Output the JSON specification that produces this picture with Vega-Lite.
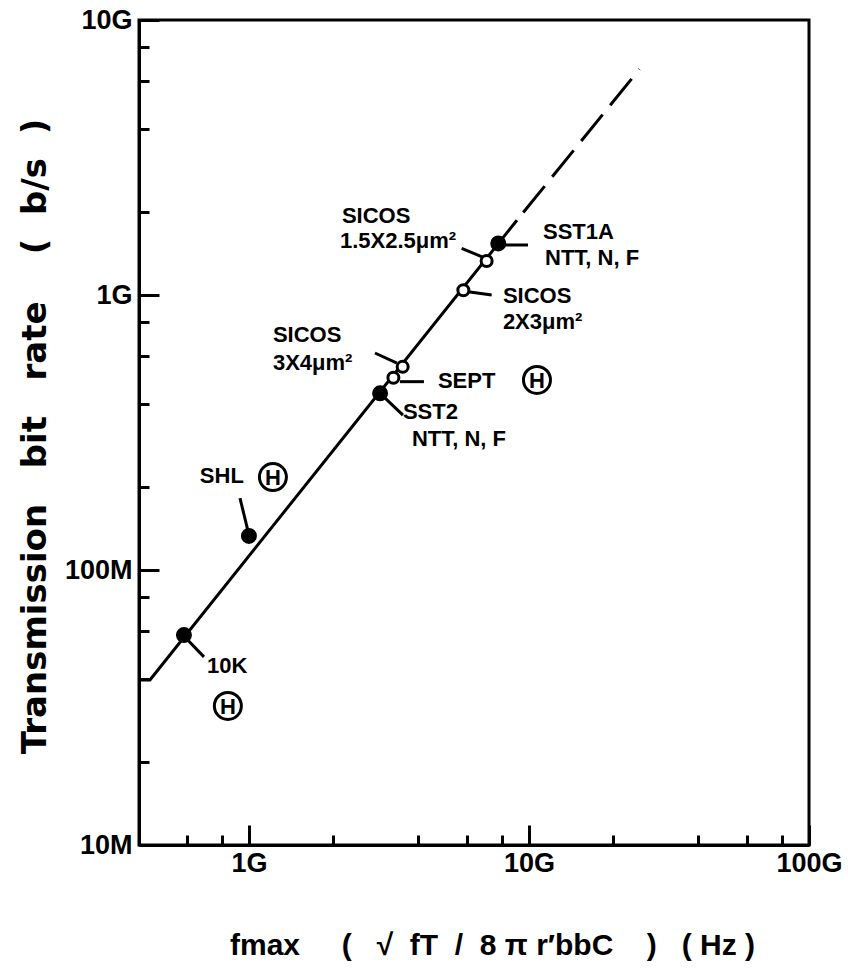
{
  "$schema": "https://vega.github.io/schema/vega-lite/v6.json",
  "width": 670,
  "height": 825,
  "autosize": {"type": "none"},
  "padding": {"left": 139, "top": 20, "right": 39, "bottom": 127},
  "background": "white",
  "config": {
    "view": {"stroke": "black", "strokeWidth": 3},
    "axis": {"grid": false, "domainColor": "black", "domainWidth": 3, "tickColor": "black", "tickWidth": 3, "labelColor": "black", "titleColor": "black", "labelOverlap": false, "labelFlush": false}
  },
  "datasets": {
    "curve": [
      {"f": 4.05e8, "r": 3.98e7, "seg": "solid"},
      {"f": 4.43e8, "r": 3.98e7, "seg": "solid"},
      {"f": 9.06e9, "r": 1.87e9, "seg": "solid"},
      {"f": 9.06e9, "r": 1.87e9, "seg": "dashed"},
      {"f": 2.48e10, "r": 6.62e9, "seg": "dashed"}
    ],
    "points": [
      {"name": "10K", "f": 5.86e8, "r": 5.8e7, "type": "filled"},
      {"name": "SHL", "f": 1.0e9, "r": 1.33e8, "type": "filled"},
      {"name": "SST2", "f": 2.94e9, "r": 4.39e8, "type": "filled"},
      {"name": "SEPT", "f": 3.28e9, "r": 5.0e8, "type": "open"},
      {"name": "SICOS 3X4", "f": 3.54e9, "r": 5.48e8, "type": "open"},
      {"name": "SICOS 2X3", "f": 5.83e9, "r": 1.04e9, "type": "open"},
      {"name": "SICOS 1.5X2.5", "f": 7.06e9, "r": 1.33e9, "type": "open"},
      {"name": "SST1A", "f": 7.77e9, "r": 1.54e9, "type": "filled"}
    ],
    "leaders": [
      {"f": 5.81e8, "r": 5.8e7, "f2": 6.91e8, "r2": 4.83e7},
      {"f": 9.29e8, "r": 1.827e8, "f2": 1.0e9, "r2": 1.341e8},
      {"f": 2.94e9, "r": 4.39e8, "f2": 3.548e9, "r2": 3.66e8},
      {"f": 3.46e9, "r": 4.84e8, "f2": 4.217e9, "r2": 4.84e8},
      {"f": 2.818e9, "r": 6.153e8, "f2": 3.378e9, "r2": 5.658e8},
      {"f": 6.07e9, "r": 1.028e9, "f2": 7.36e9, "r2": 1.0e9},
      {"f": 5.75e9, "r": 1.479e9, "f2": 6.87e9, "r2": 1.371e9},
      {"f": 8.21e9, "r": 1.52e9, "f2": 9.92e9, "r2": 1.52e9}
    ],
    "labels": [
      {"f": 2.148e9, "r": 1.938e9, "label": "SICOS"},
      {"f": 2.113e9, "r": 1.572e9, "label": "1.5X2.5μm²"},
      {"f": 1.122e10, "r": 1.70e9, "label": "SST1A"},
      {"f": 1.141e10, "r": 1.36e9, "label": "NTT, N, F"},
      {"f": 8.07e9, "r": 9.92e8, "label": "SICOS"},
      {"f": 8.07e9, "r": 7.98e8, "label": "2X3μm²"},
      {"f": 1.218e9, "r": 7.15e8, "label": "SICOS"},
      {"f": 1.218e9, "r": 5.66e8, "label": "3X4μm²"},
      {"f": 4.73e9, "r": 4.87e8, "label": "SEPT"},
      {"f": 3.548e9, "r": 3.76e8, "label": "SST2"},
      {"f": 3.82e9, "r": 3.0e8, "label": "NTT, N, F"},
      {"f": 6.68e8, "r": 2.197e8, "label": "SHL"},
      {"f": 7.08e8, "r": 4.477e7, "label": "10K"}
    ],
    "hmarks": [
      {"f": 1.068e10, "r": 4.91e8},
      {"f": 1.218e9, "r": 2.178e8},
      {"f": 8.41e8, "r": 3.203e7}
    ]
  },
  "layer": [
    {
      "data": {"name": "curve"},
      "transform": [{"filter": "datum.seg == 'solid'"}],
      "mark": {"type": "line", "color": "black", "strokeWidth": 3, "strokeJoin": "round"},
      "encoding": {
        "x": {
          "field": "f", "type": "quantitative",
          "scale": {"type": "log", "domain": [4.05e8, 1e11], "nice": false},
          "axis": {
            "title": "fmax\u00a0\u00a0\u00a0\u00a0\u00a0(\u00a0\u00a0\u00a0√\u00a0\u00a0fT\u00a0\u00a0/\u00a0\u00a08\u00a0π\u00a0r′bbC\u00a0\u00a0\u00a0\u00a0)\u00a0\u00a0\u00a0(\u00a0Hz\u00a0)",
            "values": [6e8, 8e8, 1e9, 2e9, 4e9, 6e9, 8e9, 1e10, 2e10, 4e10, 6e10, 8e10, 1e11],
            "labelExpr": "datum.value == 1e9 ? '1G' : datum.value == 1e10 ? '10G' : datum.value == 1e11 ? '100G' : ''",
            "tickSize": {"condition": {"test": "datum.value == 1e9 || datum.value == 1e10 || datum.value == 1e11", "value": -20}, "value": -10},
            "labelFont": "Liberation Sans",
            "labelFontWeight": "bold",
            "labelFontSize": 27,
            "labelPadding": 25,
            "labelBaseline": "top",
            "titleFont": "Liberation Sans",
            "titleFontWeight": "bold",
            "titleFontSize": 30,
            "titleX": 353,
            "titleY": 100,
            "titleAlign": "center",
            "titleBaseline": "middle"
          }
        },
        "y": {
          "field": "r", "type": "quantitative",
          "scale": {"type": "log", "domain": [1e7, 1e10], "nice": false},
          "axis": {
            "title": "Transmission\u00a0\u00a0\u00a0bit\u00a0\u00a0\u00a0rate\u00a0\u00a0\u00a0\u00a0(\u00a0\u00a0b/s\u00a0\u00a0)",
            "values": [1e7, 2e7, 4e7, 6e7, 8e7, 1e8, 2e8, 4e8, 6e8, 8e8, 1e9, 2e9, 4e9, 6e9, 8e9, 1e10],
            "labelExpr": "datum.value == 1e7 ? '10M' : datum.value == 1e8 ? '100M' : datum.value == 1e9 ? '1G' : datum.value == 1e10 ? '10G' : ''",
            "tickSize": {"condition": {"test": "datum.value == 1e7 || datum.value == 1e8 || datum.value == 1e9 || datum.value == 1e10", "value": -20}, "value": -10},
            "labelFont": "Liberation Sans",
            "labelFontWeight": "bold",
            "labelFontSize": 27,
            "labelPadding": 27,
            "titleFont": "DejaVu Sans",
            "titleFontWeight": "bold",
            "titleFontSize": 34,
            "titleX": -104,
            "titleY": 416,
            "titleAngle": -90,
            "titleAlign": "center",
            "titleBaseline": "middle"
          }
        }
      }
    },
    {
      "data": {"name": "curve"},
      "transform": [{"filter": "datum.seg == 'dashed'"}],
      "mark": {"type": "line", "color": "black", "strokeWidth": 3, "strokeDash": [34, 12], "strokeDashOffset": 36},
      "encoding": {
        "x": {"field": "f", "type": "quantitative"},
        "y": {"field": "r", "type": "quantitative"}
      }
    },
    {
      "data": {"name": "leaders"},
      "mark": {"type": "rule", "color": "black", "strokeWidth": 3},
      "encoding": {
        "x": {"field": "f", "type": "quantitative"},
        "y": {"field": "r", "type": "quantitative"},
        "x2": {"field": "f2"},
        "y2": {"field": "r2"}
      }
    },
    {
      "data": {"name": "points"},
      "mark": {"type": "point", "shape": "circle", "filled": true, "stroke": "black", "strokeWidth": 3, "opacity": 1},
      "encoding": {
        "x": {"field": "f", "type": "quantitative"},
        "y": {"field": "r", "type": "quantitative"},
        "fill": {"field": "type", "type": "nominal", "scale": {"domain": ["filled", "open"], "range": ["black", "white"]}, "legend": null},
        "size": {"field": "type", "type": "nominal", "scale": {"domain": ["filled", "open"], "range": [169, 121]}, "legend": null}
      }
    },
    {
      "data": {"name": "labels"},
      "mark": {"type": "text", "align": "left", "baseline": "middle", "font": "Liberation Sans", "fontWeight": "bold", "fontSize": 22, "color": "black"},
      "encoding": {
        "x": {"field": "f", "type": "quantitative"},
        "y": {"field": "r", "type": "quantitative"},
        "text": {"field": "label", "type": "nominal"}
      }
    },
    {
      "data": {"name": "hmarks"},
      "mark": {"type": "point", "shape": "circle", "filled": false, "stroke": "black", "strokeWidth": 3, "size": 729, "opacity": 1},
      "encoding": {
        "x": {"field": "f", "type": "quantitative"},
        "y": {"field": "r", "type": "quantitative"}
      }
    },
    {
      "data": {"name": "hmarks"},
      "mark": {"type": "text", "align": "center", "baseline": "middle", "font": "Liberation Sans", "fontWeight": "bold", "fontSize": 22, "color": "black", "text": "H", "dy": 1},
      "encoding": {
        "x": {"field": "f", "type": "quantitative"},
        "y": {"field": "r", "type": "quantitative"}
      }
    }
  ]
}
